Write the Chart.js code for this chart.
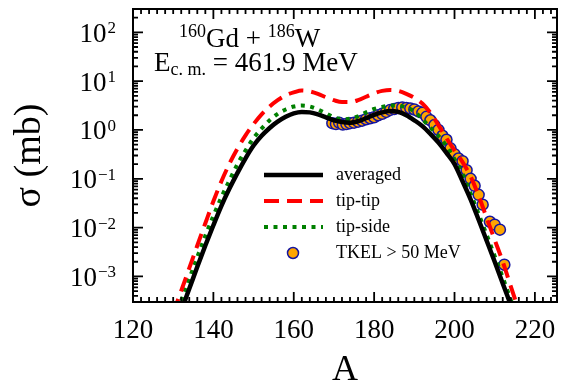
<!DOCTYPE html>
<html>
<head>
<meta charset="utf-8">
<script src="https://cdn.jsdelivr.net/npm/chart.js@4.4.1/dist/chart.umd.min.js"></script>
<style>
  html, body { margin: 0; padding: 0; background: #fff; }
  #wrap { width: 567px; height: 382px; position: relative; }
</style>
</head>
<body>
<div id="wrap"><canvas id="sigmaChart"></canvas></div>
<script>
// curves (mass number A vs cross section in mb)
const avgA = [132,134,136,138,140,142,144,146,148,150,152,154,156,158,160,162,164,166,168,170,172,174,176,178,180,182,184,186,188,190,192,194,196,198,200,202,204,206,208,210,212,214];
const avgSigma = [2.0e-4,5.6e-4,1.58e-3,4.3e-3,1.12e-2,2.8e-2,6.3e-2,0.132,0.263,0.48,0.76,1.10,1.48,1.86,2.19,2.34,2.29,2.09,1.82,1.58,1.45,1.41,1.51,1.74,2.04,2.29,2.45,2.34,2.0,1.58,1.20,0.83,0.55,0.34,0.20,8.9e-2,3.8e-2,1.45e-2,5.4e-3,2.0e-3,7.2e-4,2.6e-4];

const tipTipA = [130,132,134,136,138,140,142,144,146,148,150,152,154,156,158,160,162,164,166,168,170,172,174,176,178,180,182,184,186,188,190,192,194,196,198,200,202,204,206,208,210,212,214,216];
const tipTipSigma = [1.78e-4,5.1e-4,1.48e-3,4.3e-3,1.23e-2,3.47e-2,8.9e-2,0.204,0.417,0.776,1.32,2.09,3.02,4.07,5.13,5.89,6.46,6.17,5.5,4.68,4.07,3.72,3.72,4.07,4.79,5.62,6.31,6.61,6.31,5.5,4.57,3.47,2.24,1.26,0.68,0.38,0.22,0.112,4.5e-2,1.58e-2,5.6e-3,2.0e-3,6.3e-4,2.0e-4];

const tipSideA = [132,134,136,138,140,142,144,146,148,150,152,154,156,158,160,162,164,166,168,170,172,174,176,178,180,182,184,186,188,190,192,194,196,198,200,202,204,206,208,210,212,214,216];
const tipSideSigma = [3.2e-4,8.9e-4,2.5e-3,6.8e-3,1.74e-2,4.2e-2,9.3e-2,0.20,0.38,0.68,1.07,1.58,2.14,2.63,3.02,3.16,3.02,2.63,2.19,1.82,1.66,1.70,1.91,2.29,2.69,2.95,3.16,3.16,2.88,2.40,1.66,1.12,0.76,0.47,0.25,0.126,5.0e-2,1.9e-2,7.1e-3,2.6e-3,9.5e-4,3.3e-4,1.12e-4];

// experimental points, TKEL > 50 MeV
const expA = [169.6,170.5,171.3,172.2,173.1,174,175,176,177,178,179,180,181,182,183,184,185,186,187,188,189,190,191,192,193,194,195,196,197,198,199,200,201,202,203,204,205,206,207,208.8,210,211.3,212.4];
const expSigma = [1.38,1.32,1.41,1.29,1.32,1.38,1.41,1.48,1.55,1.66,1.74,1.82,2.0,2.14,2.34,2.57,2.69,2.82,2.88,2.82,2.75,2.63,2.40,2.24,1.86,1.58,1.26,1.0,0.76,0.63,0.42,0.32,0.26,0.23,0.15,0.10,7.2e-2,4.7e-2,2.95e-2,1.32e-2,1.15e-2,9.1e-3,1.74e-3];

// axis ticks
const xTicks = [120,140,160,180,200,220];
const yExponents = [-3,-2,-1,0,1,2];

const serif = '"Liberation Serif", "Times New Roman", serif';
const pts = (xs, ys) => xs.map((a, i) => ({ x: a, y: ys[i] }));

// draws a run of text pieces with different sizes / baseline shifts
function richText(ctx, parts, x, y) {
  parts.forEach(p => {
    ctx.font = p.size + 'px ' + serif;
    ctx.fillText(p.t, x, y + (p.dy || 0));
    x += ctx.measureText(p.t).width;
  });
}

const framePlugin = {
  id: 'frame',
  afterDraw(chart) {
    const { ctx, chartArea: a, scales: { x, y } } = chart;
    ctx.save();
    ctx.strokeStyle = '#000';
    ctx.fillStyle = '#000';

    // inward ticks on all four sides
    ctx.lineWidth = 1.8;
    ctx.beginPath();
    for (let v = 120; v <= x.max; v += 2) {
      const px = x.getPixelForValue(v);
      const len = v % 20 === 0 ? 10 : 5;
      ctx.moveTo(px, a.bottom); ctx.lineTo(px, a.bottom - len);
      ctx.moveTo(px, a.top); ctx.lineTo(px, a.top + len);
    }
    for (let e = -4; e <= 2; e++) {
      for (let k = 1; k <= 9; k++) {
        const v = k * Math.pow(10, e);
        if (v < y.min || v > y.max) continue;
        const py = y.getPixelForValue(v);
        const len = k === 1 ? 10 : 5;
        ctx.moveTo(a.left, py); ctx.lineTo(a.left + len, py);
        ctx.moveTo(a.right, py); ctx.lineTo(a.right - len, py);
      }
    }
    ctx.stroke();

    ctx.lineWidth = 2;
    ctx.strokeRect(a.left, a.top, a.right - a.left, a.bottom - a.top);

    // x tick labels
    ctx.textBaseline = 'alphabetic';
    ctx.textAlign = 'center';
    ctx.font = '27px ' + serif;
    xTicks.forEach(v => ctx.fillText(String(v), x.getPixelForValue(v), a.bottom + 36));

    // y tick labels 10^n
    ctx.textAlign = 'right';
    yExponents.forEach(e => {
      const py = y.getPixelForValue(Math.pow(10, e));
      const ex = e < 0 ? '\u2212' + (-e) : String(e);
      ctx.font = '17px ' + serif;
      const w = ctx.measureText(ex).width;
      ctx.fillText(ex, 116, py + 1);
      ctx.font = '27px ' + serif;
      ctx.fillText('10', 116 - w - 1, py + 9.5);
    });

    // axis titles
    ctx.textAlign = 'center';
    ctx.font = '36px ' + serif;
    ctx.fillText('A', (a.left + a.right) / 2, 380);
    ctx.save();
    ctx.translate(30, (a.top + a.bottom) / 2);
    ctx.rotate(-Math.PI / 2);
    ctx.textBaseline = 'middle';
    ctx.font = '38px ' + serif;
    ctx.fillText('\u03c3 (mb)', 0, 0);
    ctx.restore();

    // reaction label
    ctx.textAlign = 'left';
    richText(ctx, [
      { t: '160', size: 18, dy: -10 }, { t: 'Gd + ', size: 27 },
      { t: '186', size: 18, dy: -10 }, { t: 'W', size: 27 }
    ], 179, 47);
    richText(ctx, [
      { t: 'E', size: 27 }, { t: 'c. m.', size: 18, dy: 4 }, { t: ' = 461.9 MeV', size: 27 }
    ], 154, 71);

    // legend
    const rows = [175, 201, 227, 253];
    ctx.font = '18px ' + serif;
    ctx.textBaseline = 'middle';
    chart.data.datasets.forEach((ds, i) => {
      const ly = rows[i];
      if (ds.showLine === false) {
        ctx.beginPath();
        ctx.arc(293, ly, ds.pointRadius, 0, Math.PI * 2);
        ctx.fillStyle = ds.pointBackgroundColor;
        ctx.fill();
        ctx.lineWidth = ds.pointBorderWidth;
        ctx.strokeStyle = ds.pointBorderColor;
        ctx.stroke();
      } else {
        ctx.beginPath();
        ctx.setLineDash(ds.borderDash || []);
        ctx.lineWidth = ds.borderWidth;
        ctx.strokeStyle = ds.borderColor;
        ctx.moveTo(264, ly); ctx.lineTo(323, ly);
        ctx.stroke();
        ctx.setLineDash([]);
      }
      ctx.fillStyle = '#000';
      ctx.fillText(ds.label, 336, ly);
    });
    ctx.restore();
  }
};

const ctx = document.getElementById('sigmaChart');
new Chart(ctx, {
  type: 'line',
  data: {
    datasets: [
      { label: 'averaged', data: pts(avgA, avgSigma), borderColor: '#000', borderWidth: 4.5, pointRadius: 0, cubicInterpolationMode: 'monotone' },
      { label: 'tip-tip', data: pts(tipTipA, tipTipSigma), borderColor: '#ff0000', borderWidth: 4, borderDash: [15, 8], pointRadius: 0, cubicInterpolationMode: 'monotone' },
      { label: 'tip-side', data: pts(tipSideA, tipSideSigma), borderColor: '#008000', borderWidth: 4, borderDash: [4, 5.5], pointRadius: 0, cubicInterpolationMode: 'monotone' },
      { label: 'TKEL > 50 MeV', data: pts(expA, expSigma), showLine: false, pointRadius: 5.5,
        pointBackgroundColor: '#ffa500', pointBorderColor: '#1414a0', pointBorderWidth: 1.5 }
    ]
  },
  options: {
    responsive: true,
    maintainAspectRatio: false,
    animation: false,
    layout: { padding: { left: 133, right: 10, top: 9, bottom: 80 } },
    plugins: { legend: { display: false }, tooltip: { enabled: false } },
    scales: {
      x: { type: 'linear', min: 120, max: 225.5, display: false },
      y: { type: 'logarithmic', min: 3e-4, max: 300, display: false }
    }
  },
  plugins: [framePlugin]
});
</script>
</body>
</html>
